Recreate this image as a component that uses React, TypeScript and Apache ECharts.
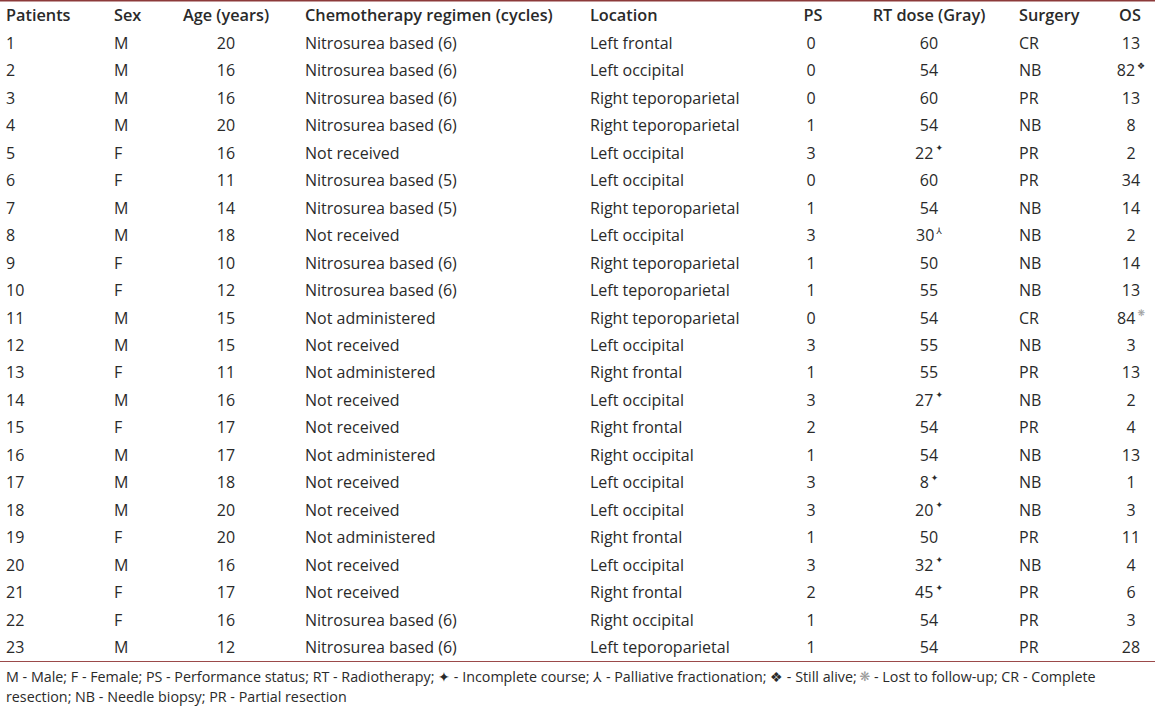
import React, { useEffect, useRef } from "react";
import * as echarts from "echarts";

const headers = ["Patients", "Sex", "Age (years)", "Chemotherapy regimen (cycles)", "Location", "PS", "RT dose (Gray)", "Surgery", "OS"];
const patients = ["1", "2", "3", "4", "5", "6", "7", "8", "9", "10", "11", "12", "13", "14", "15", "16", "17", "18", "19", "20", "21", "22", "23"];
const sex = ["M", "M", "M", "M", "F", "F", "M", "M", "F", "F", "M", "M", "F", "M", "F", "M", "M", "M", "F", "M", "F", "F", "M"];
const age = [20, 16, 16, 20, 16, 11, 14, 18, 10, 12, 15, 15, 11, 16, 17, 17, 18, 20, 20, 16, 17, 16, 12];
const chemo = [
  "Nitrosurea based (6)", "Nitrosurea based (6)", "Nitrosurea based (6)", "Nitrosurea based (6)", "Not received",
  "Nitrosurea based (5)", "Nitrosurea based (5)", "Not received", "Nitrosurea based (6)", "Nitrosurea based (6)",
  "Not administered", "Not received", "Not administered", "Not received", "Not received", "Not administered",
  "Not received", "Not received", "Not administered", "Not received", "Not received", "Nitrosurea based (6)",
  "Nitrosurea based (6)",
];
const locations = [
  "Left frontal", "Left occipital", "Right teporoparietal", "Right teporoparietal", "Left occipital", "Left occipital",
  "Right teporoparietal", "Left occipital", "Right teporoparietal", "Left teporoparietal", "Right teporoparietal",
  "Left occipital", "Right frontal", "Left occipital", "Right frontal", "Right occipital", "Left occipital",
  "Left occipital", "Right frontal", "Left occipital", "Right frontal", "Right occipital", "Left teporoparietal",
];
const ps = [0, 0, 0, 1, 3, 0, 1, 3, 1, 1, 0, 3, 1, 3, 2, 1, 3, 3, 1, 3, 2, 1, 1];
const rtDose = [60, 54, 60, 54, 22, 60, 54, 30, 50, 55, 54, 55, 55, 27, 54, 54, 8, 20, 50, 32, 45, 54, 54];
const rtMark = ["", "", "", "", "inc", "", "", "pal", "", "", "", "", "", "inc", "", "", "inc", "inc", "", "inc", "inc", "", ""];
const surgery = ["CR", "NB", "PR", "NB", "PR", "PR", "NB", "NB", "NB", "NB", "CR", "NB", "PR", "NB", "PR", "NB", "NB", "NB", "PR", "NB", "PR", "PR", "PR"];
const os = [13, 82, 13, 8, 2, 34, 14, 2, 14, 13, 84, 3, 13, 2, 4, 13, 1, 3, 11, 4, 6, 3, 28];
const osMark = ["", "alive", "", "", "", "", "", "", "", "", "lost", "", "", "", "", "", "", "", "", "", "", "", ""];
const markSymbols: Record<string, string> = { inc: "✦", pal: "⅄", alive: "❖", lost: "❋" };
const footLine1 = "M - Male; F - Female; PS - Performance status; RT - Radiotherapy; ✦ - Incomplete course; ⅄ - Palliative fractionation; ❖ - Still alive; {g|❋} - Lost to follow-up; CR - Complete";
const footLine2 = "resection; NB - Needle biopsy; PR - Partial resection";

// layout: column anchor x and alignment
const colX = [6, 114, 226, 305, 590, 811, 929, 1019, 1131];
const colAlign = ["left", "left", "center", "left", "left", "center", "center", "left", "center"];
const headerX = [6, 114, 226, 305, 590, 813, 929, 1019, 1130];

const FONT = "'Open Sans', Lato, sans-serif";
const TEXT = "#2a2a2a";
const FS = 16;

export default function App() {
  const ref = useRef<HTMLDivElement>(null);
  useEffect(() => {
    const chart = echarts.init(ref.current!, null, { renderer: "svg" });
    const supRich = {
      sup: { fontSize: 9, fontFamily: "DejaVu Sans", fill: TEXT, padding: [0, 0, 9, 2] },
      supg: { fontSize: 9, fontFamily: "DejaVu Sans", fill: "#9a9a9a", padding: [0, 0, 9, 2] },
    };
    const cellText = (c: number, i: number): string => {
      switch (c) {
        case 0: return patients[i];
        case 1: return sex[i];
        case 2: return String(age[i]);
        case 3: return chemo[i];
        case 4: return locations[i];
        case 5: return String(ps[i]);
        case 6: return String(rtDose[i]) + (rtMark[i] ? "{sup|" + markSymbols[rtMark[i]] + "}" : "");
        case 7: return surgery[i];
        default: {
          const m = osMark[i];
          return String(os[i]) + (m ? "{" + (m === "lost" ? "supg" : "sup") + "|" + markSymbols[m] + "}" : "");
        }
      }
    };
    chart.setOption({
      animation: false,
      backgroundColor: "#ffffff",
      grid: { left: 0, right: 0, top: 29.3, bottom: 45.3 },
      xAxis: { type: "value", min: 0, max: 1155, show: false },
      yAxis: { type: "category", data: patients, inverse: true, show: false },
      series: [
        {
          type: "custom",
          clip: false,
          data: patients.map((_, i) => [0, i]),
          renderItem: (params: any, api: any) => {
            const i = params.dataIndex;
            const children = colX.map((cx, c) => {
              const p = api.coord([cx, i]);
              return {
                type: "text",
                x: p[0],
                y: p[1],
                style: {
                  text: cellText(c, i),
                  fontFamily: FONT,
                  fontSize: FS,
                  fill: TEXT,
                  align: colAlign[c],
                  verticalAlign: "middle",
                  rich: supRich,
                },
              };
            });
            return { type: "group", children };
          },
        },
      ],
      graphic: [
        { type: "line", shape: { x1: 0, y1: 0.5, x2: 1155, y2: 0.5 }, style: { stroke: "#8c3a3a", lineWidth: 2 } },
        { type: "line", shape: { x1: 0, y1: 661.5, x2: 1155, y2: 661.5 }, style: { stroke: "#9b4a4a", lineWidth: 1 } },
        ...headers.map((h, c) => ({
          type: "text",
          x: headerX[c],
          y: 15,
          style: {
            text: h,
            fontFamily: FONT,
            fontSize: 16.3,
            fontWeight: 600,
            fill: TEXT,
            align: c === 2 || c === 5 || c === 6 || c === 8 ? "center" : "left",
            verticalAlign: "middle",
          },
        })),
        {
          type: "text",
          x: 6,
          y: 676,
          style: {
            text: footLine1,
            fontFamily: FONT,
            fontSize: 14.3,
            fill: TEXT,
            align: "left",
            verticalAlign: "middle",
            rich: { g: { fill: "#9a9a9a", fontSize: 13, fontFamily: "DejaVu Sans" } },
          },
        },
        {
          type: "text",
          x: 6,
          y: 696,
          style: { text: footLine2, fontFamily: FONT, fontSize: 14.3, fill: TEXT, align: "left", verticalAlign: "middle" },
        },
      ],
    });
    return () => chart.dispose();
  }, []);
  return <div ref={ref} style={{ position: "fixed", left: 0, top: 0, width: 1155, height: 706 }} />;
}
